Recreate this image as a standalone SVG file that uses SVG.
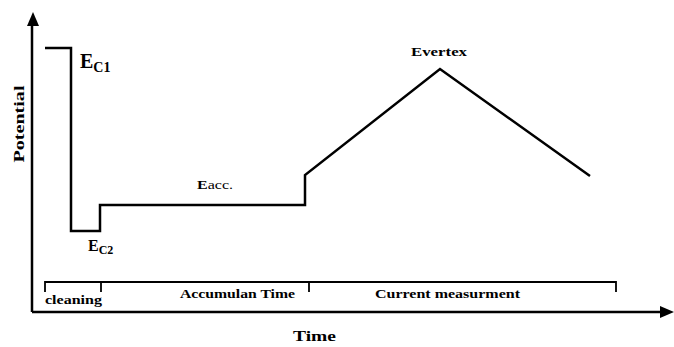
<svg xmlns="http://www.w3.org/2000/svg" width="674" height="347" viewBox="0 0 674 347">
<style>
.ln{fill:none;stroke:#000;stroke-width:2.5;stroke-linejoin:miter}
.br{fill:none;stroke:#000;stroke-width:1.8}
text{font-family:'Liberation Serif','DejaVu Serif','Times New Roman',serif;fill:#000}
.b{font-weight:bold}
</style>
<rect width="674" height="347" fill="#fff"/>
<g id="axes">
<path d="M32,312 L32,20" class="ln"/>
<path d="M27,26 L33,12 L39,26 z" fill="#000"/>
<path d="M32,312 L662,312" class="ln"/>
<path d="M660,306 L674,312 L660,318 z" fill="#000"/>
</g>
<g id="curve">
<path d="M45,48 L71,48 L71,231 L100,231 L100,205 L305,205 L305,175 L440,69 L590,176" class="ln"/>
</g>
<g id="brackets">
<path d="M45,292 L45,282 L616,282 L616,292 M101,282 L101,292 M309,282 L309,292" class="br"/>
</g>
<g id="labels">
<text class="b" x="80" y="68" font-size="20">E<tspan font-size="14" dy="4">C1</tspan></text>
<text class="b" x="88" y="251" font-size="16">E<tspan font-size="12" dy="3">C2</tspan></text>
<text x="197" y="189" font-size="12" textLength="36" lengthAdjust="spacingAndGlyphs"><tspan font-weight="bold">E</tspan>acc.</text>
<text class="b" x="411" y="56" font-size="12" textLength="56" lengthAdjust="spacingAndGlyphs">Evertex</text>
<text class="b" x="24" y="124" font-size="15" text-anchor="middle" transform="rotate(-90 24 124)" textLength="77" lengthAdjust="spacingAndGlyphs">Potential</text>
<text class="b" x="45" y="304" font-size="13" textLength="57" lengthAdjust="spacingAndGlyphs">cleaning</text>
<text class="b" x="180" y="298" font-size="13" textLength="115" lengthAdjust="spacingAndGlyphs">Accumulan Time</text>
<text class="b" x="375" y="298" font-size="13" textLength="145" lengthAdjust="spacingAndGlyphs">Current measurment</text>
<text class="b" x="293" y="341" font-size="15" textLength="43" lengthAdjust="spacingAndGlyphs">Time</text>
</g>
</svg>
